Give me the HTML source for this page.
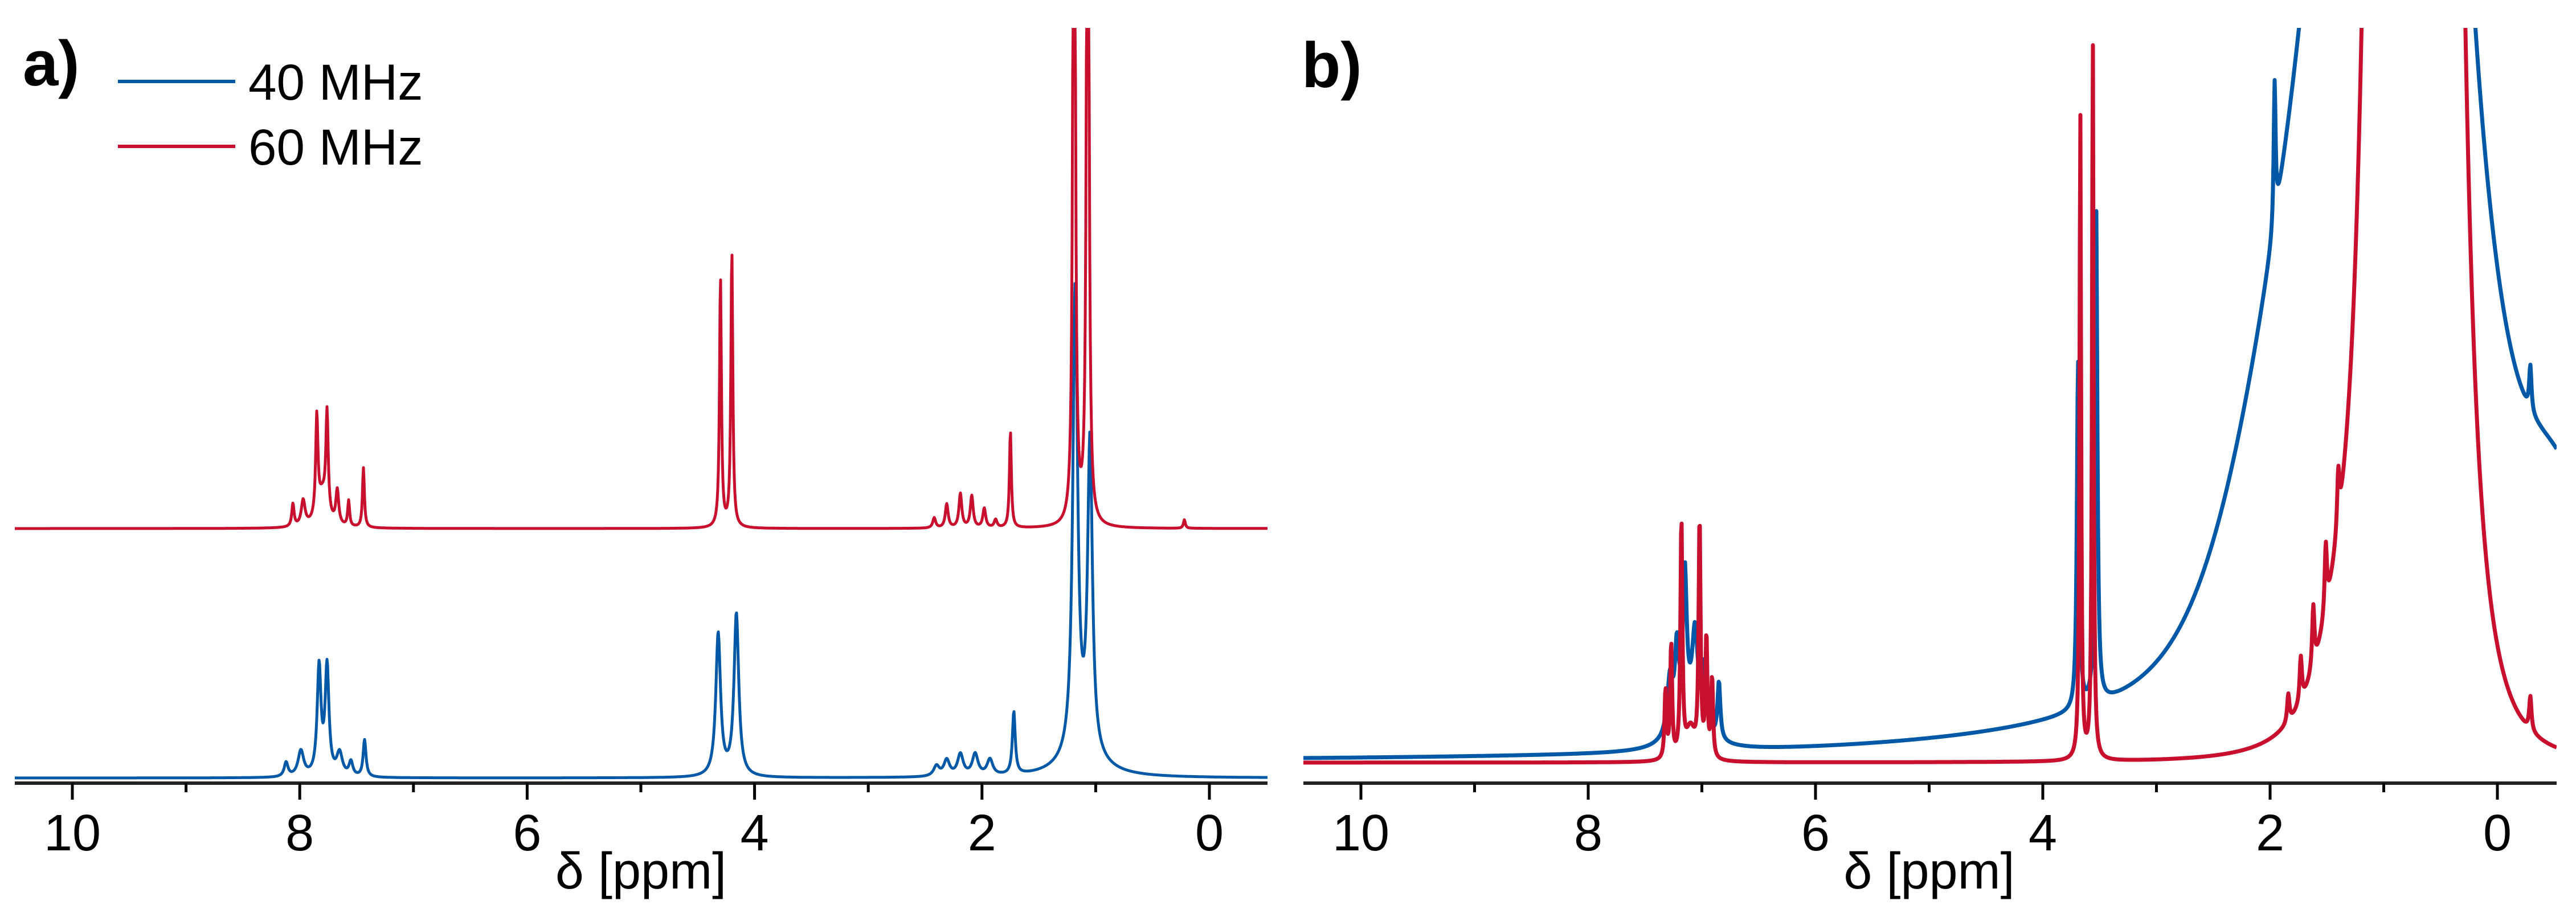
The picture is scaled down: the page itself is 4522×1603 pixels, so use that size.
<!DOCTYPE html>
<html><head><meta charset="utf-8"><style>
html,body{margin:0;padding:0;background:#fff;}
svg{display:block;}
text{font-family:"Liberation Sans",sans-serif;fill:#000;}
</style></head><body>
<svg id="fig" width="4522" height="1603" viewBox="0 0 4522 1603" xmlns="http://www.w3.org/2000/svg">
<rect x="0" y="0" width="4522" height="1603" fill="#fff"/>
<defs>
<clipPath id="clipA"><rect x="26" y="49" width="2199" height="1326"/></clipPath>
<clipPath id="clipB"><rect x="2288" y="49" width="2200" height="1326"/></clipPath>
</defs>
<g id="panelA"></g>
<g id="panelB"></g>
<text x="40" y="150" font-size="112" font-weight="bold">a)</text>
<text x="2285" y="153" font-size="112" font-weight="bold">b)</text>
<g>
<g>
<line x1="207" y1="143" x2="413" y2="143" stroke="#0058a6" stroke-width="6"/>
<text x="436" y="175" font-size="89">40 MHz</text>
</g>
<g>
<line x1="207" y1="257" x2="413" y2="257" stroke="#c8102e" stroke-width="6"/>
<text x="436" y="289" font-size="89">60 MHz</text>
</g>
</g>
</svg>
<script>
// ---- axis ticks ----
const majorTicks = [10, 8, 6, 4, 2, 0];
const minorTicks = [9, 7, 5, 3, 1];
const tickLabels = ["10", "8", "6", "4", "2", "0"];

// ---- panel a, 60 MHz (red) peaks ----
const redA_ppm = [8.06, 7.97, 7.85, 7.80, 7.76, 7.67, 7.57, 7.44, 4.30, 4.20, 2.42, 2.31, 2.19, 2.09, 1.98, 1.88, 1.75, 1.19, 1.07, 0.22];
const redA_h   = [40, 45, 175, 55, 175, 60, 45, 105, 440, 488, 18, 42, 60, 56, 34, 14, 170, 2000, 2000, 15];
const redA_w   = [0.012, 0.02, 0.012, 0.05, 0.012, 0.015, 0.01, 0.01, 0.01, 0.01, 0.015, 0.015, 0.015, 0.015, 0.015, 0.015, 0.01, 0.01, 0.01, 0.01];

// ---- panel a, 40 MHz (blue) peaks ----
const blueA_ppm = [8.12, 7.99, 7.83, 7.76, 7.65, 7.55, 7.43, 4.32, 4.16, 2.40, 2.31, 2.19, 2.06, 1.93, 1.72, 1.18, 1.05, 1.12];
const blueA_h   = [25, 45, 190, 190, 40, 25, 65, 250, 285, 18, 28, 38, 38, 28, 110, 820, 545, 40];
const blueA_w   = [0.02, 0.03, 0.02, 0.02, 0.03, 0.02, 0.015, 0.025, 0.025, 0.03, 0.03, 0.03, 0.03, 0.03, 0.015, 0.025, 0.025, 0.2];

// ---- panel b, 60 MHz (red) peaks ----
const redB_ppm = [7.32, 7.27, 7.18, 7.10, 7.02, 6.96, 6.91, 3.67, 3.56, 1.84, 1.73, 1.62, 1.51, 1.40, 1.40, 0.735, -0.29];
const redB_h   = [120, 200, 415, 55, 415, 210, 140, 1140, 1275, 50, 80, 110, 120, 100, 120, 310000, 60];
const redB_w   = [0.01, 0.01, 0.01, 0.05, 0.01, 0.01, 0.01, 0.008, 0.008, 0.012, 0.012, 0.012, 0.012, 0.012, 0.25, 0.119, 0.012];
const redB_shape = ["L","L","L","L","L","L","L","L","L","L","L","L","L","L","L","L2","L"];

// ---- panel b, 40 MHz (blue) peaks ----
const blueB_ppm = [7.28, 7.22, 7.15, 7.10, 7.06, 6.98, 6.85, 3.69, 3.53, 1.96, 0.87, 1.6, -0.6, -0.29];
const blueB_h   = [100, 130, 250, 60, 150, 100, 100, 610, 870, 250, 6000, 480, 200, 80];
const blueB_w   = [0.03, 0.02, 0.02, 0.15, 0.03, 0.02, 0.015, 0.012, 0.012, 0.01, 0.35, 0.55, 0.3, 0.012];
const blueB_shape = ["L","L","L","L","L","L","L","L","L","L","L","G","G","L"];

const NS = "http://www.w3.org/2000/svg";
function mk(tag, attrs, parent) {
  const el = document.createElementNS(NS, tag);
  for (const k in attrs) el.setAttribute(k, attrs[k]);
  parent.appendChild(el);
  return el;
}
function spectrum(ppm, P, H, W, S) {
  let s = 0;
  for (let i = 0; i < P.length; i++) {
    const d = (ppm - P[i]) / W[i];
    const sh = S ? S[i] : "L";
    if (sh === "L") s += H[i] / (1 + d * d);
    else if (sh === "L2") { const q = 1 + d * d; s += H[i] / (q * q); }
    else s += H[i] * Math.exp(-d * d / 2);
  }
  return s;
}

function drawPanel(g, cfg) {
  const xs = p => cfg.x0 + (cfg.p0 - p) * cfg.ppx;
  const ys = (v, base) => base - v;
  const sg = mk("g", {"clip-path": cfg.clip}, g);
  
  
  cfg.series.forEach(s => {
    let d = "";
    for (let x = cfg.ax0; x <= cfg.ax1; x += 1) {
      const p = cfg.p0 - (x - cfg.x0) / cfg.ppx;
      let y = ys(spectrum(p, s.P, s.H, s.W, s.S), s.base);
      if (y < 20) y = 20;
      d += (d ? "L" : "M") + x.toFixed(1) + " " + y.toFixed(1);
    }
    const path = mk("path", {d: d, fill: "none", stroke: s.color, "stroke-width": s.sw, "stroke-linejoin": "round"}, sg);
    
    
  });
  const ax = mk("g", {}, g);
  
  
  mk("line", {x1: cfg.ax0, y1: 1375, x2: cfg.ax1, y2: 1375, stroke: "#222", "stroke-width": 6}, ax);
  majorTicks.forEach((t, i) => {
    const x = xs(t);
    const tk = mk("line", {x1: x, y1: 1375, x2: x, y2: 1404, stroke: "#000", "stroke-width": 5}, ax);
    
    
    const lb = mk("text", {x: x, y: 1493, "font-size": 90, "text-anchor": "middle"}, ax);
    lb.textContent = tickLabels[i];
    
    
  });
  minorTicks.forEach(t => {
    const x = xs(t);
    const tk = mk("line", {x1: x, y1: 1375, x2: x, y2: 1391, stroke: "#000", "stroke-width": 5}, ax);
    
    
  });
  const tl = mk("text", {x: xs(5), y: 1560, "font-size": 90, "text-anchor": "middle"}, ax);
  tl.textContent = "δ [ppm]";
  
  
}

drawPanel(document.getElementById("panelA"), {
  x0: 127, p0: 10, ppx: 199.6, ax0: 26, ax1: 2225, clip: "url(#clipA)",
  series: [
    {name: "spectrum-40mhz", P: blueA_ppm, H: blueA_h, W: blueA_w, base: 1366, color: "#0058a6", sw: 5},
    {name: "spectrum-60mhz", P: redA_ppm, H: redA_h, W: redA_w, base: 928, color: "#c8102e", sw: 5}
  ]
});
drawPanel(document.getElementById("panelB"), {
  x0: 2389, p0: 10, ppx: 199.5, ax0: 2288, ax1: 4488, clip: "url(#clipB)",
  series: [
    {name: "spectrum-40mhz", P: blueB_ppm, H: blueB_h, W: blueB_w, S: blueB_shape, base: 1339, color: "#0058a6", sw: 7},
    {name: "spectrum-60mhz", P: redB_ppm, H: redB_h, W: redB_w, S: redB_shape, base: 1339, color: "#c8102e", sw: 7}
  ]
});
</script>
</body></html>
